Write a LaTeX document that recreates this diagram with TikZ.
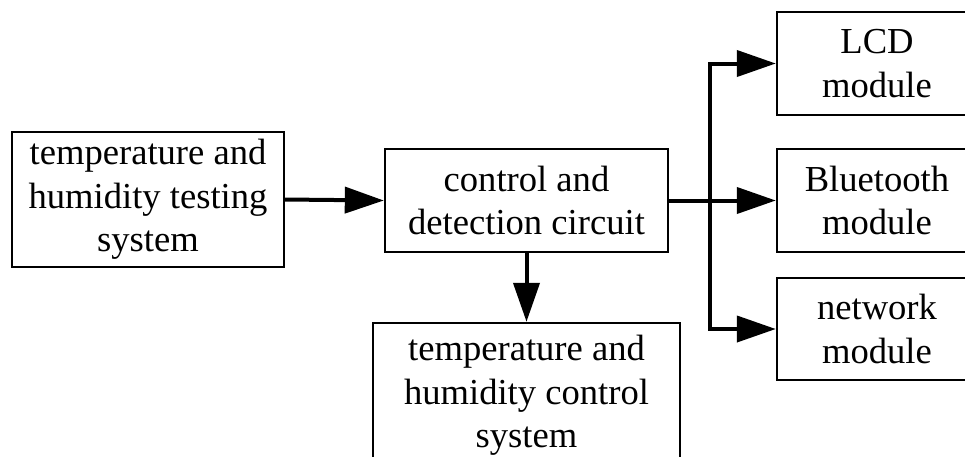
\documentclass[tikz,border=0pt]{standalone}
\usepackage{fontspec}
\setmainfont{Liberation Serif}
\usetikzlibrary{arrows.meta}

\tikzset{
  block/.style={draw=black, line width=2.4pt, rectangle, inner sep=0pt,
    align=center, font=\fontsize{36.6pt}{43.5pt}\selectfont},
  link/.style={line width=4pt, line join=miter,
    -{Triangle[length=39pt, width=26pt]}},
  wire/.style={line width=4pt, line join=miter}
}

\begin{document}
\begin{tikzpicture}[x=1pt, y=-1pt]
  \useasboundingbox (0,0) rectangle (965,456);
  \clip (0,0) rectangle (965,456);
  \fill[white] (0,0) rectangle (965,456);

  % blocks
  \node[block, minimum width=272pt, minimum height=135pt] (test) at (148,199.5)
    {temperature and\\humidity testing\\system};
  \node[block, minimum width=283pt, minimum height=103pt] (ctrl) at (526.5,200.5)
    {control and\\detection circuit};
  \node[block, minimum width=307pt, minimum height=145pt] (act) at (526.5,395.5)
    {temperature and\\humidity control\\system};
  \node[block, minimum width=200pt, minimum height=103pt] (lcd) at (877,63.5)
    {LCD\\module};
  \node[block, minimum width=200pt, minimum height=103pt] (bt) at (877,200.5)
    {Bluetooth\\module};
  \node[block, minimum width=200pt, minimum height=102pt] (net) at (877,329)
    {network\\module};

  % branching point of the output bus
  \coordinate (bus) at (710,200.5);

  % connectors
  \draw[link] (test.east) -- (ctrl.west);
  \draw[link] (ctrl.south) -- (act.north);
  \draw[link] (ctrl.east) -- (bt.west);
  \draw[wire, {Triangle[length=39pt, width=26pt]}-{Triangle[length=39pt, width=26pt]}]
    (lcd.west) -- (lcd.west -| bus) -- (net.west -| bus) -- (net.west);
\end{tikzpicture}
\end{document}
